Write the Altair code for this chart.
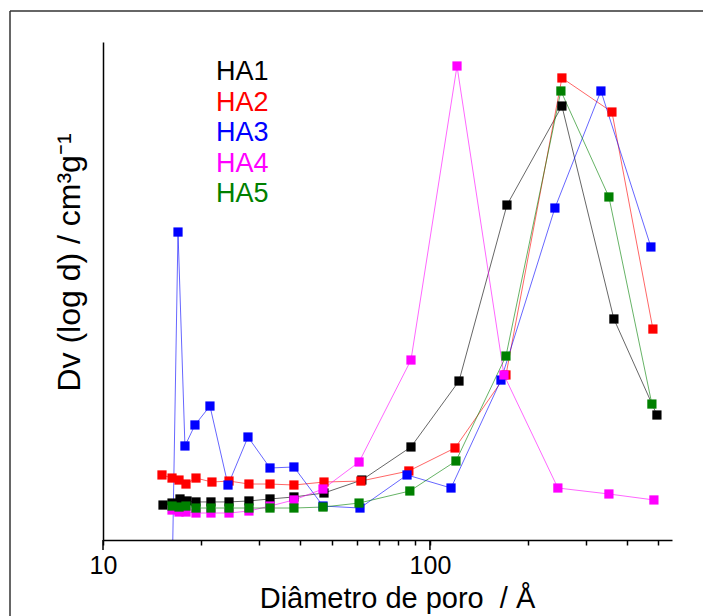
import altair as alt
import pandas as pd

# Pore-size distributions (BJH), Dv(log d) in cm3/g versus pore diameter in angstrom
names = ["HA1", "HA2", "HA3", "HA4", "HA5"]
colors = ["#000000", "#ff0000", "#0000ff", "#ff00ff", "#008000"]

ha1_d = [15.26, 16.26, 17.20, 18.07, 19.25, 21.39, 24.29, 27.95, 32.42, 38.37,
         47.42, 61.9, 87.5, 122.7, 172.0, 253.3, 365.3, 494.6]
ha1_v = [0.0351, 0.0371, 0.0412, 0.0392, 0.0382, 0.0382, 0.0382, 0.0392, 0.0412, 0.0432,
         0.0472, 0.0602, 0.0934, 0.1596, 0.3363, 0.4357, 0.2219, 0.1255]

ha2_d = [15.15, 16.26, 17.08, 17.94, 19.25, 21.54, 24.29, 27.95, 32.42, 38.37,
         47.42, 61.5, 86.2, 119.3, 170.8, 253.3, 360.3, 480.8]
ha2_v = [0.0653, 0.0622, 0.0602, 0.0562, 0.0622, 0.0582, 0.0592, 0.0562, 0.0562, 0.0552,
         0.0582, 0.0592, 0.0693, 0.0924, 0.1657, 0.4639, 0.4297, 0.2118]

ha3_d = [16.26, 16.96, 17.81, 19.11, 21.24, 24.12, 27.76, 32.42, 38.37, 47.09,
         61.1, 85.1, 116.0, 164.9, 241.1, 333.4, 474.1]
ha3_v = [-0.045, 0.3092, 0.0944, 0.1155, 0.1345, 0.0552, 0.1034, 0.0723, 0.0733, 0.0341,
         0.0321, 0.0653, 0.0522, 0.1606, 0.3333, 0.4508, 0.2942]

ha4_d = [16.26, 17.08, 17.94, 19.25, 21.39, 24.29, 27.95, 32.42, 38.37, 47.09,
         60.7, 87.5, 121.0, 168.4, 246.2, 352.7, 484.2]
ha4_v = [0.0301, 0.0281, 0.0281, 0.0271, 0.0271, 0.0271, 0.0291, 0.0341, 0.0402, 0.0512,
         0.0783, 0.1807, 0.4759, 0.1657, 0.0522, 0.0462, 0.0402]

ha5_d = [16.26, 17.08, 17.94, 19.25, 21.39, 24.29, 27.95, 32.42, 38.37, 47.09,
         60.7, 86.8, 120.1, 170.8, 251.5, 352.7, 477.4]
ha5_v = [0.0341, 0.0331, 0.0341, 0.0321, 0.0321, 0.0321, 0.0321, 0.0321, 0.0321, 0.0331,
         0.0371, 0.0492, 0.0793, 0.1847, 0.4508, 0.3444, 0.1365]

x_ticks = [10, 20, 30, 40, 50, 60, 70, 80, 90, 100, 200, 300, 400, 500]
major_ticks = [10, 100]

series = [(ha1_d, ha1_v), (ha2_d, ha2_v), (ha3_d, ha3_v), (ha4_d, ha4_v), (ha5_d, ha5_v)]
frames = []
for name, (ds, vs) in zip(names, series):
    frames.append(pd.DataFrame({"series": name, "idx": range(len(ds)), "d": ds, "v": vs}))
df = pd.concat(frames, ignore_index=True)

FONT = "Liberation Sans"
x_scale = alt.Scale(type="log", domain=[10, 550], nice=False)

x_enc = alt.X(
    "d:Q",
    scale=x_scale,
    axis=alt.Axis(
        values=x_ticks,
        format="d",
        labelExpr="datum.value == 10 || datum.value == 100 ? datum.label : ''",
        labelOverlap=False,
        labelFlush=False,
        labelFont=FONT,
        labelFontSize=25,
        labelColor="black",
        labelPadding=8,
        tickColor="black",
        tickWidth=1.5,
        tickSize=5,
        domainColor="black",
        domainWidth=1.5,
        grid=False,
        title="Diâmetro de poro\u00a0 / Å",
        titleFont=FONT,
        titleFontSize=29,
        titleFontWeight="normal",
        titleColor="black",
        titlePadding=6,
        titleX=294,
        titleAlign="center",
        zindex=1,
    ),
)
y_enc = alt.Y(
    "v:Q",
    scale=alt.Scale(domain=[0, 0.5], nice=False),
    axis=alt.Axis(
        ticks=False,
        labels=False,
        grid=False,
        domainColor="black",
        domainWidth=1.5,
        title="Dv (log d) / cm³g⁻¹",
        titleFont=FONT,
        titleFontSize=32,
        titleFontWeight="normal",
        titleColor="black",
        titleX=-24,
        titleY=220,
        titleBaseline="alphabetic",
        zindex=1,
    ),
)

line_layers = []
point_layers = []
for name, c in zip(names, colors):
    sub = df[df["series"] == name]
    line_layers.append(
        alt.Chart(sub).mark_line(color=c, strokeWidth=1, opacity=0.6, clip=True).encode(
            x=x_enc, y=y_enc, order="idx:Q"
        )
    )
    point_layers.append(
        alt.Chart(sub).mark_square(color=c, size=85, opacity=1, clip=True).encode(
            x=x_enc, y=y_enc
        )
    )

one = pd.DataFrame({"k": [0]})

# white band under the x axis so curves never show below the plot area
below_axis = alt.Chart(one).mark_rect(color="white", clip=False).encode(
    x=alt.value(-2), x2=alt.value(575), y=alt.value(499), y2=alt.value(580)
)

# longer ticks at the decades
major = alt.Chart(pd.DataFrame({"t": major_ticks})).mark_rule(
    color="black", strokeWidth=1.5, clip=False
).encode(
    x=alt.X("t:Q", scale=x_scale), y=alt.value(498), y2=alt.value(508)
)

legend_layers = []
for i, (n, c) in enumerate(zip(names, colors)):
    legend_layers.append(
        alt.Chart(one).mark_text(
            text=n, color=c, font=FONT, fontSize=27, align="left", baseline="middle"
        ).encode(x=alt.value(113), y=alt.value(30 + 30.5 * i))
    )

frame_left = alt.Chart(one).mark_rule(color="#333333", strokeWidth=1.5, clip=False).encode(
    x=alt.value(-93), y=alt.value(-31), y2=alt.value(620)
)
frame_top = alt.Chart(one).mark_rule(color="#333333", strokeWidth=1.5, clip=False).encode(
    x=alt.value(-93), x2=alt.value(640), y=alt.value(-31)
)

chart = alt.layer(
    *line_layers, below_axis, major, *point_layers, *legend_layers, frame_left, frame_top
).properties(
    width=569,
    height=498,
    padding={"left": 103, "top": 42, "right": 31, "bottom": 76},
    autosize=alt.AutoSizeParams(type="none"),
    background="white",
).configure_view(strokeWidth=0)

chart.save("out.html", embed_options={"renderer": "svg", "actions": False})
